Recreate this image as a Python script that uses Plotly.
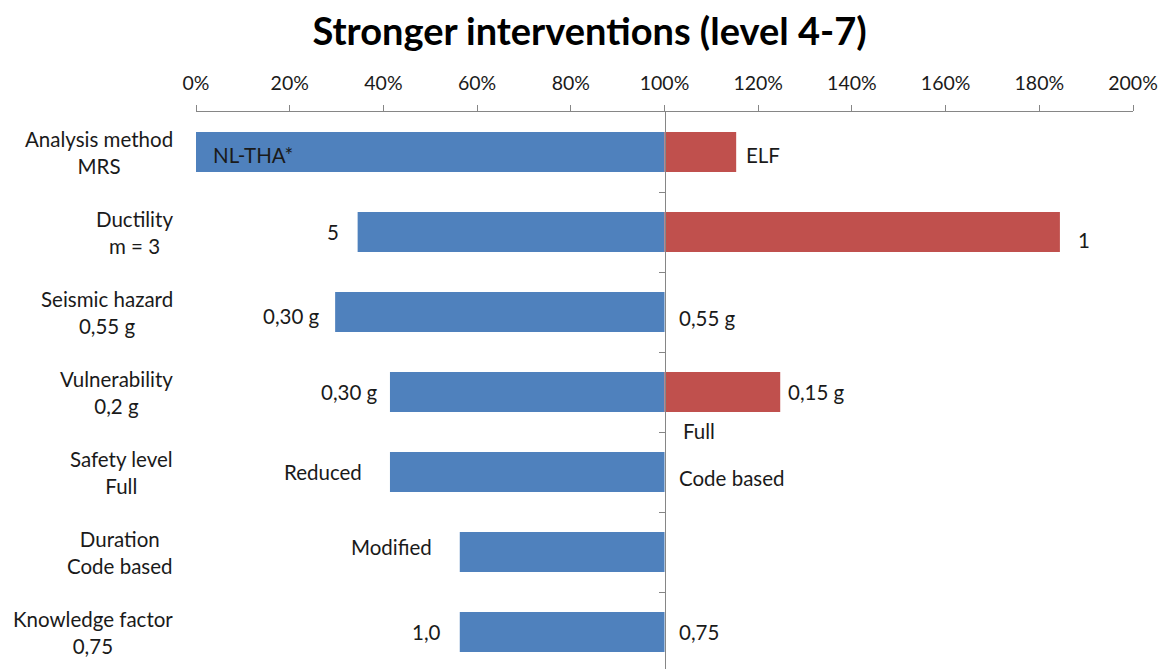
import plotly.graph_objects as go

# ---- data ----
factors = ["Analysis method", "Ductility", "Seismic hazard", "Vulnerability",
           "Safety level", "Duration", "Knowledge factor"]
base_values = ["MRS", "m = 3", "0,55 g", "0,2 g", "Full", "Code based", "0,75"]
low_values = [0.0, 0.345, 0.297, 0.414, 0.414, 0.563, 0.563]     # blue: lower bound (fraction)
high_values = [1.153, 1.844, 1.0, 1.247, 1.0, 1.0, 1.0]          # red: upper bound (fraction)
low_labels = ["NL-THA*", "5", "0,30 g", "0,30 g", "Reduced", "Modified", "1,0"]
high_labels = ["ELF", "1", "0,55 g", "0,15 g", "Full", "Code based", "0,75"]
reference = 1.0
x_ticks = [0, 0.2, 0.4, 0.6, 0.8, 1.0, 1.2, 1.4, 1.6, 1.8, 2.0]
title = "Stronger interventions (level 4-7)"

# ---- styles ----
BLUE = "#4F81BD"
RED = "#C0504D"
AXIS = "#868686"
TXT = "#1a1a1a"
FONT = "Lato"
FS = 20.5
TICK_FS = 19.5

# label offsets (pixels) - styling only
low_xshift = [15, -17, -13, -10, -26, -26, -17]
low_yshift = [-3, 0, -4, 0, 0, 5, 0]
high_xshift = [8, 16, 12, 6, 16, 12, 12]
high_yshift = [-3, -8, -6, 0, 41, 74, 0]

n = len(factors)
ypos = list(range(n))

fig = go.Figure()
fig.add_trace(go.Bar(
    y=ypos, x=[reference - v for v in low_values], base=low_values,
    orientation="h", width=0.5, marker=dict(color=BLUE, line=dict(width=0)),
    showlegend=False, hoverinfo="skip"))
fig.add_trace(go.Bar(
    y=ypos, x=[v - reference for v in high_values], base=[reference] * n,
    orientation="h", width=0.5, marker=dict(color=RED, line=dict(width=0)),
    showlegend=False, hoverinfo="skip"))
# invisible trace to carry the axis at 100%
fig.add_trace(go.Scatter(x=[None], y=[None], yaxis="y2", showlegend=False, hoverinfo="skip"))

annotations = []
for i in range(n):
    annotations.append(dict(
        xref="paper", yref="y", x=0, y=ypos[i], xanchor="right", yanchor="middle",
        xshift=-21, align="center", showarrow=False,
        text=f"{factors[i]}<br>{base_values[i]}",
        font=dict(family=FONT, size=FS, color=TXT)))
    annotations.append(dict(
        xref="x", yref="y", x=low_values[i], y=ypos[i],
        xanchor="left" if low_xshift[i] > 0 else "right", yanchor="middle",
        xshift=low_xshift[i], yshift=low_yshift[i], showarrow=False,
        text=low_labels[i], font=dict(family=FONT, size=FS, color=TXT)))
    annotations.append(dict(
        xref="x", yref="y", x=high_values[i], y=ypos[i],
        xanchor="left", yanchor="middle",
        xshift=high_xshift[i], yshift=high_yshift[i], showarrow=False,
        text=high_labels[i], font=dict(family=FONT, size=FS, color=TXT)))

fig.update_layout(
    width=1172, height=669,
    margin=dict(l=196, r=39, t=112, b=0, pad=0),
    paper_bgcolor="white", plot_bgcolor="white",
    barmode="overlay",
    title=dict(text=f"<b>{title}</b>", x=0.503, xanchor="center",
               y=1 - 32 / 669, yanchor="middle", yref="container",
               font=dict(family=FONT, size=38, color="#000000")),
    xaxis=dict(range=[0, 2], side="top", tickvals=x_ticks, tickformat=".0%",
               showgrid=False, zeroline=False, showline=True, linecolor=AXIS, linewidth=1,
               ticks="outside", ticklen=6, tickcolor=AXIS, tickwidth=1,
               ticklabelstandoff=7,
               tickfont=dict(family=FONT, size=TICK_FS, color=TXT), fixedrange=True),
    yaxis=dict(range=[n - 0.5375, -0.5], showticklabels=False, showgrid=False,
               zeroline=False, showline=False, ticks="", fixedrange=True),
    yaxis2=dict(overlaying="y", matches="y", anchor="free", position=0.5,
                showticklabels=False, showgrid=False, zeroline=False,
                showline=True, linecolor=AXIS, linewidth=1,
                ticks="outside", ticklen=6, tickcolor=AXIS, tickwidth=1,
                tickvals=[i + 0.5 for i in range(n - 1)]),
    annotations=annotations,
)

fig.write_html("out.html", config={"displayModeBar": False},
               post_script="document.body.style.margin='0';")
